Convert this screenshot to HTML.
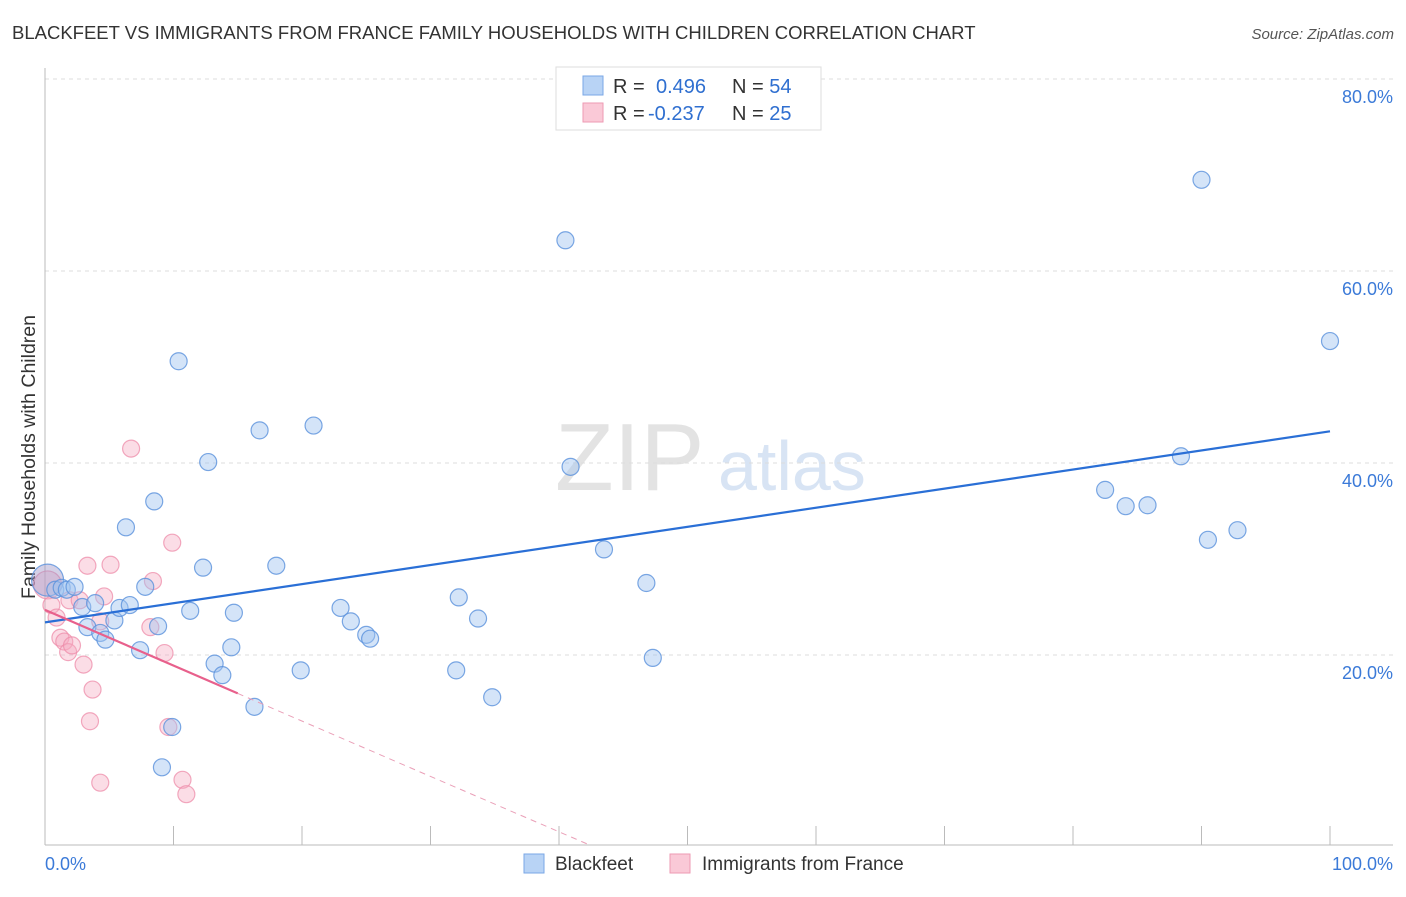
<!DOCTYPE html>
<html><head><meta charset="utf-8"><style>
body{margin:0;background:#fff;font-family:"Liberation Sans",sans-serif;}
svg text{font-family:"Liberation Sans",sans-serif;}
</style></head><body>
<svg id="c" width="1406" height="892" xmlns="http://www.w3.org/2000/svg">
<text x="12" y="39" font-size="18.5" fill="#333">BLACKFEET VS IMMIGRANTS FROM FRANCE FAMILY HOUSEHOLDS WITH CHILDREN CORRELATION CHART</text>
<text x="1394" y="39" font-size="15" fill="#555" font-style="italic" text-anchor="end">Source: ZipAtlas.com</text>
<text x="555" y="490" font-size="96" fill="#e3e3e3" font-family="Liberation Serif">ZIP</text>
<text x="718" y="490" font-size="70" fill="#d8e4f4">atlas</text>
<text transform="translate(35,457) rotate(-90)" font-size="19.5" fill="#333" text-anchor="middle">Family Households with Children</text>
<g id="grid"></g><g id="pts"></g><g id="lines"></g>
<g>
<rect x="556" y="67" width="265" height="63" fill="#fff" stroke="#ddd"/>
<rect x="583" y="76" width="20" height="19" fill="#b8d3f5" stroke="#7aa7e6"/>
<rect x="583" y="103" width="20" height="19" fill="#fac9d7" stroke="#ee9ab3"/>
<text x="613" y="93" font-size="20" fill="#333">R = <tspan x="656" fill="#2f6fd0">0.496</tspan><tspan x="732" fill="#333">N = </tspan><tspan fill="#2f6fd0">54</tspan></text>
<text x="613" y="120" font-size="20" fill="#333">R = <tspan x="648" fill="#2f6fd0">-0.237</tspan><tspan x="732" fill="#333">N = </tspan><tspan fill="#2f6fd0">25</tspan></text>
</g>
<g>
<rect x="524" y="854" width="20" height="19" fill="#b8d3f5" stroke="#7aa7e6"/>
<text x="555" y="870" font-size="19" fill="#333">Blackfeet</text>
<rect x="670" y="854" width="20" height="19" fill="#fac9d7" stroke="#ee9ab3"/>
<text x="702" y="870" font-size="19" fill="#333">Immigrants from France</text>
</g>
<text x="45" y="870" font-size="18" fill="#3b7ad8">0.0%</text>
<text x="1393" y="870" font-size="18" fill="#3b7ad8" text-anchor="end">100.0%</text>
</svg>
<script>
const yTicks=[20,40,60,80];
const yTickLabels=["20.0%","40.0%","60.0%","80.0%"];
const blueX=[0.2,0.8,1.3,1.7,2.3,2.9,3.9,3.3,4.3,4.7,5.4,5.8,6.6,6.3,7.4,7.8,8.5,8.8,9.1,9.9,10.4,11.3,12.3,12.7,13.2,13.8,14.5,14.7,16.3,16.7,18.0,19.9,20.9,23.0,23.8,25.0,25.3,32.0,32.2,33.7,34.8,40.5,40.9,43.5,46.8,47.3,82.5,84.1,85.8,88.4,90.0,90.5,92.8,100.0];
const blueY=[27.8,26.8,27.0,26.8,27.1,25.0,25.4,22.9,22.3,21.6,23.6,24.9,25.2,33.3,20.5,27.1,36.0,23.0,8.3,12.5,50.6,24.6,29.1,40.1,19.1,17.9,20.8,24.4,14.6,43.4,29.3,18.4,43.9,24.9,23.5,22.1,21.7,18.4,26.0,23.8,15.6,63.2,39.6,31.0,27.5,19.7,37.2,35.5,35.6,40.7,69.5,32.0,33.0,52.7];
const pinkX=[0.2,0.5,0.9,1.2,1.5,1.8,2.1,1.9,2.7,3.0,3.3,3.7,3.5,4.3,4.6,5.1,6.7,8.2,8.4,9.3,9.6,9.9,10.7,11.0,4.3];
const pinkY=[27.3,25.2,23.9,21.8,21.4,20.3,21.0,25.7,25.7,19.0,29.3,16.4,13.1,6.7,26.1,29.4,41.5,22.9,27.7,20.2,12.5,31.7,7.0,5.5,23.5];
const blueTrend=[23.4,43.3];
const pinkTrend=[24.7,16.0,15,0.2,42.4];
const NS="http://www.w3.org/2000/svg";
const xs=v=>45+v*12.85, ys=v=>847-v*9.6;
function mk(t,a,p){const e=document.createElementNS(NS,t);for(const k in a)e.setAttribute(k,a[k]);document.getElementById(p).appendChild(e);return e;}
yTicks.forEach((t,i)=>{
 const g=mk('line',{x1:45,x2:1393,y1:ys(t),y2:ys(t),stroke:'#ddd','stroke-dasharray':'4,4'},'grid');
 
 
 const l=mk('text',{x:1393,y:ys(t)+24,'font-size':18,fill:'#3b7ad8','text-anchor':'end'},'grid');l.textContent=yTickLabels[i];
 
 
});
const ax=mk('line',{x1:45,x2:45,y1:68,y2:845,stroke:'#bbb'},'grid');


const bx=mk('line',{x1:45,x2:1393,y1:845,y2:845,stroke:'#bbb'},'grid');


for(let i=0;i<=10;i++){const t=mk('line',{x1:xs(i*10),x2:xs(i*10),y1:826,y2:845,stroke:'#bbb'},'grid');
 
 }
pinkX.forEach((x,i)=>{const c=mk('circle',{cx:xs(x),cy:ys(pinkY[i]),r:i==0?14:8.5,fill:'rgba(246,170,192,0.4)',stroke:'rgba(238,140,170,0.75)','stroke-width':1.2},'pts');
 
 });
blueX.forEach((x,i)=>{const c=mk('circle',{cx:xs(x),cy:ys(blueY[i]),r:i==0?16:8.5,fill:i==0?'rgba(160,150,200,0.45)':'rgba(160,196,240,0.45)',stroke:'rgba(90,145,220,0.8)','stroke-width':1.2},'pts');
 
 });
const bl=mk('line',{x1:xs(0),y1:ys(blueTrend[0]),x2:xs(100),y2:ys(blueTrend[1]),stroke:'#2a6fd6','stroke-width':2.2},'lines');


const pl=mk('line',{x1:xs(0),y1:ys(pinkTrend[0]),x2:xs(pinkTrend[2]),y2:ys(pinkTrend[1]),stroke:'#e8608c','stroke-width':2.2},'lines');


const pd=mk('line',{x1:xs(pinkTrend[2]),y1:ys(pinkTrend[1]),x2:xs(pinkTrend[4]),y2:ys(pinkTrend[3]),stroke:'#eaa0b8','stroke-width':1,'stroke-dasharray':'6,5'},'lines');


</script>
</body></html>
